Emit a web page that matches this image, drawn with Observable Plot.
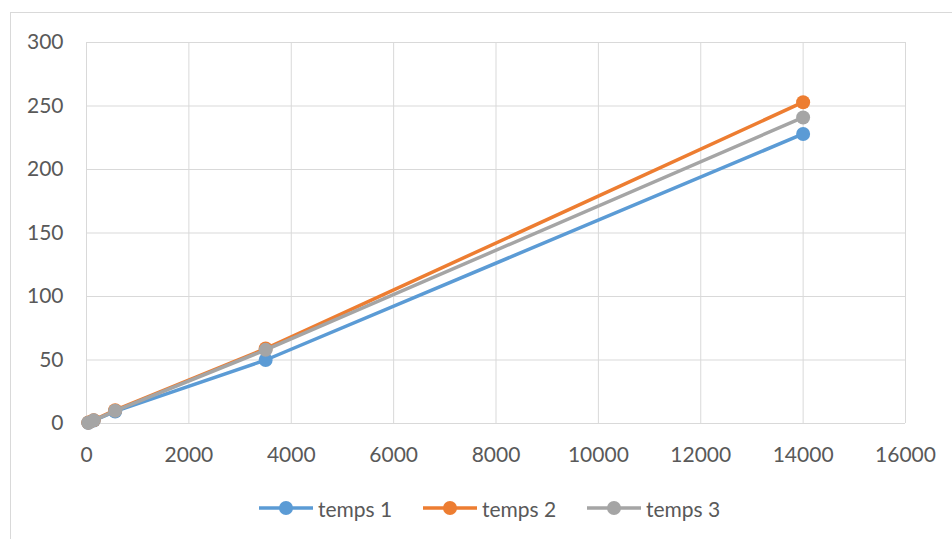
<!DOCTYPE html>
<html>
<head>
<meta charset="utf-8">
<script src="https://cdn.jsdelivr.net/npm/d3@7"></script>
<script src="https://cdn.jsdelivr.net/npm/@observablehq/plot@0.6"></script>
<style>
  html, body { margin: 0; padding: 0; background: #fff; }
  #wrap { position: relative; width: 952px; height: 539px; overflow: hidden; font-family: Lato, "Open Sans", sans-serif; }
  #frame { position: absolute; left: 10px; top: 12px; width: 980px; height: 600px; border: 1px solid #d9d9d9; box-sizing: border-box; }
  #chart { position: absolute; left: 0; top: 0; }
  #legend { position: absolute; left: 259px; top: 496px; height: 24px; display: flex; align-items: center; color: #595959; font-size: 21px; }
  .item { display: flex; align-items: center; width: 164px; }
  .item svg { margin-right: 5px; }
</style>
</head>
<body>
<div id="wrap">
  <div id="frame"></div>
  <div id="chart"></div>
  <div id="legend"></div>
</div>
<script>
const xValues = [35, 140, 560, 3500, 14000];
const seriesNames = ["temps 1", "temps 2", "temps 3"];
const temps1 = [0.6, 2.3, 9.5, 50, 228];
const temps2 = [0.7, 2.6, 10.5, 59, 253];
const temps3 = [0.6, 2.5, 10, 58, 241];
const seriesColors = ["#5b9bd5", "#ed7d31", "#a5a5a5"];
const xTicks = [0, 2000, 4000, 6000, 8000, 10000, 12000, 14000, 16000];
const yTicks = [0, 50, 100, 150, 200, 250, 300];

const seriesValues = [temps1, temps2, temps3];
const rows = [];
seriesNames.forEach((name, i) => {
  xValues.forEach((x, j) => rows.push({series: name, x, y: seriesValues[i][j]}));
});

const fmt = d => String(d);
const marks = [
  Plot.gridX(xTicks, {stroke: "#d9d9d9", strokeOpacity: 1, strokeWidth: 1}),
  Plot.gridY(yTicks, {stroke: "#d9d9d9", strokeOpacity: 1, strokeWidth: 1}),
  Plot.axisX(xTicks, {tickSize: 0, tickPadding: 24, fill: "#595959", fontSize: 21, label: null, tickFormat: fmt}),
  Plot.axisY(yTicks, {tickSize: 0, tickPadding: 23, fill: "#595959", fontSize: 21, label: null, tickFormat: fmt})
];
seriesNames.forEach((name, i) => {
  const data = rows.filter(d => d.series === name);
  marks.push(Plot.line(data, {x: "x", y: "y", stroke: seriesColors[i], strokeWidth: 3.5}));
  marks.push(Plot.dot(data, {x: "x", y: "y", fill: seriesColors[i], r: 7, stroke: "none"}));
});

const chart = Plot.plot({
  width: 952,
  height: 470,
  marginLeft: 86,
  marginRight: 47,
  marginTop: 42,
  marginBottom: 47,
  style: {fontFamily: "Lato, 'Open Sans', sans-serif", fontSize: "21px", background: "transparent"},
  x: {domain: [0, 16000]},
  y: {domain: [0, 300]},
  marks
});
document.getElementById("chart").appendChild(chart);

const legend = document.getElementById("legend");
seriesNames.forEach((name, i) => {
  const item = document.createElement("div");
  item.className = "item";
  item.innerHTML = `<svg width="54" height="16"><line x1="0" x2="54" y1="8" y2="8" stroke="${seriesColors[i]}" stroke-width="3.5"/><circle cx="27" cy="8" r="7" fill="${seriesColors[i]}"/></svg><span>${name}</span>`;
  legend.appendChild(item);
});
</script>
</body>
</html>
